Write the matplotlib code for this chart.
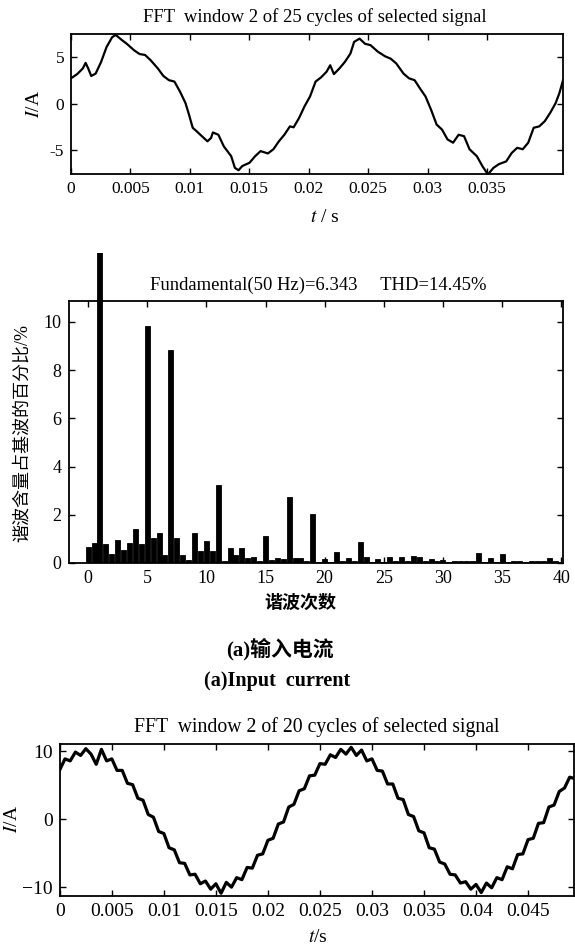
import matplotlib
matplotlib.use("Agg")
import matplotlib.pyplot as plt
from matplotlib.patches import Rectangle

plt.rcParams['font.family'] = ['Liberation Serif', 'Noto Sans CJK SC']
plt.rcParams['mathtext.fontset'] = 'stix'
plt.rcParams['axes.unicode_minus'] = False

# input current, FFT window of 2 cycles
t_in = [0, 0.00052, 0.00099, 0.00123, 0.00145, 0.00170, 0.00207, 0.00253, 0.00299, 0.00346,
        0.00376, 0.00423, 0.00469, 0.00531, 0.00577, 0.00623, 0.00669, 0.00731, 0.00777, 0.00824,
        0.00870, 0.00916, 0.00963, 0.00993, 0.01024, 0.01055, 0.01101, 0.01148, 0.01178, 0.01194,
        0.01240, 0.01286, 0.01348, 0.01379, 0.01410, 0.01441, 0.01502, 0.01549, 0.01595, 0.01657,
        0.01703, 0.01749, 0.01795, 0.01842, 0.01873, 0.01919, 0.01965, 0.02011, 0.02058, 0.02104,
        0.02150, 0.02181, 0.02212, 0.02258, 0.02304, 0.02351, 0.02382, 0.02428, 0.02474, 0.02520,
        0.02582, 0.02644, 0.02690, 0.02736, 0.02798, 0.02844, 0.02891, 0.02937, 0.02983, 0.03029,
        0.03076, 0.03122, 0.03168, 0.03215, 0.03261, 0.03307, 0.03353, 0.03415, 0.03461, 0.03508,
        0.03554, 0.03600, 0.03662, 0.03708, 0.03754, 0.03801, 0.03847, 0.03893, 0.03940, 0.03986,
        0.04032, 0.04078, 0.04109, 0.04140]
i_in = [2.7, 3.15, 3.75, 4.35, 3.75, 2.95, 3.2, 4.45, 6.05, 7.1,
        7.35, 6.85, 6.4, 5.7, 5.3, 5.2, 4.65, 3.75, 2.95, 2.5,
        2.35, 1.3, 0.05, -1.2, -2.6, -2.95, -3.5, -4.05, -3.7, -3.1,
        -3.35, -4.6, -5.65, -6.9, -7.15, -6.7, -6.35, -5.65, -5.1, -5.35,
        -4.9, -4.05, -3.35, -2.45, -2.55, -1.55, -0.3, 0.75, 2.35, 2.8,
        3.4, 4.1, 3.15, 3.75, 4.45, 5.35, 6.6, 6.95, 6.4, 6.25,
        5.55, 5.05, 4.8, 4.3, 3.2, 2.7, 2.5, 1.6, 0.75, -0.65,
        -2.25, -2.8, -3.85, -4.2, -3.35, -3.5, -4.9, -5.65, -6.7, -7.6,
        -6.9, -6.5, -6.2, -5.3, -4.75, -4.9, -4.2, -2.6, -2.45, -1.9,
        -1.0, 0.05, 1.1, 2.5]

# harmonic spectrum, % of fundamental
orders = [0, 0.5, 1, 1.5, 2, 2.5, 3, 3.5, 4, 4.5, 5, 5.5, 6, 6.5, 7, 7.5, 8, 8.5, 9, 9.5,
          10, 10.5, 11, 11.5, 12, 12.5, 13, 13.5, 14, 14.5, 15, 15.5, 16, 16.5, 17, 17.5, 18, 18.5, 19, 19.5,
          20, 20.5, 21, 21.5, 22, 22.5, 23, 23.5, 24, 24.5, 25, 25.5, 26, 26.5, 27, 27.5, 28, 28.5, 29, 29.5,
          30, 30.5, 31, 31.5, 32, 32.5, 33, 33.5, 34, 34.5, 35, 35.5, 36, 36.5, 37, 37.5, 38, 38.5, 39, 39.5, 40]
percent = [0.65, 0.82, 100, 0.78, 0.38, 0.97, 0.52, 0.84, 1.40, 0.77,
           9.85, 1.05, 1.25, 0.35, 8.85, 1.03, 0.35, 0.12, 1.25, 0.48,
           0.90, 0.48, 3.25, 0.10, 0.63, 0.35, 0.62, 0.20, 0.26, 0.10,
           1.10, 0.12, 0.20, 0.15, 2.72, 0.20, 0.20, 0.10, 2.05, 0.05,
           0.18, 0.06, 0.46, 0.10, 0.22, 0.08, 0.87, 0.24, 0.06, 0.18,
           0.06, 0.26, 0.10, 0.24, 0.07, 0.30, 0.23, 0.08, 0.16, 0.08,
           0.14, 0.05, 0.09, 0.08, 0.09, 0.10, 0.42, 0.06, 0.22, 0.04,
           0.36, 0.05, 0.08, 0.08, 0.05, 0.10, 0.10, 0.10, 0.22, 0.08, 0.03]

# second current, FFT window of 2 cycles
t_out = [0.0000, 0.0005, 0.0010, 0.0015, 0.0020, 0.0025, 0.0030, 0.0035, 0.0040, 0.0045,
         0.0050, 0.0055, 0.0060, 0.0065, 0.0070, 0.0075, 0.0080, 0.0085, 0.0090, 0.0095,
         0.0100, 0.0105, 0.0110, 0.0115, 0.0120, 0.0125, 0.0130, 0.0135, 0.0140, 0.0145,
         0.0150, 0.0155, 0.0160, 0.0165, 0.0170, 0.0175, 0.0180, 0.0185, 0.0190, 0.0195,
         0.0200, 0.0205, 0.0210, 0.0215, 0.0220, 0.0225, 0.0230, 0.0235, 0.0240, 0.0245,
         0.0250, 0.0255, 0.0260, 0.0265, 0.0270, 0.0275, 0.0280, 0.0285, 0.0290, 0.0295,
         0.0300, 0.0305, 0.0310, 0.0315, 0.0320, 0.0325, 0.0330, 0.0335, 0.0340, 0.0345,
         0.0350, 0.0355, 0.0360, 0.0365, 0.0370, 0.0375, 0.0380, 0.0385, 0.0390, 0.0395,
         0.0400, 0.0405, 0.0410, 0.0415, 0.0420, 0.0425, 0.0430, 0.0435, 0.0440, 0.0445,
         0.0450, 0.0455, 0.0460, 0.0465, 0.0470, 0.0475, 0.0480, 0.0485, 0.0490, 0.0495]
i_out = [7.3, 8.9, 8.6, 9.9, 9.4, 10.4, 9.6, 8.1, 10.3, 8.6,
         8.9, 7.2, 7.2, 5.3, 5.1, 3.1, 2.8, 0.7, 0.3, -1.8,
         -2.1, -4.2, -4.5, -6.4, -6.5, -8.2, -8.1, -9.5, -9.1, -10.3,
         -9.5, -10.9, -9.3, -10.0, -8.6, -8.9, -7.1, -7.2, -5.3, -5.1,
         -3.1, -2.8, -0.7, -0.4, 1.8, 2.2, 4.2, 4.5, 6.4, 6.5,
         8.2, 8.1, 9.5, 9.1, 10.3, 9.6, 10.6, 9.4, 10.2, 8.6,
         8.9, 7.2, 7.1, 5.2, 5.2, 3.1, 2.9, 0.7, 0.4, -1.7,
         -2.0, -4.2, -4.4, -6.3, -6.6, -8.1, -8.2, -9.4, -9.2, -10.3,
         -9.6, -10.8, -9.4, -10.1, -8.6, -8.9, -7.0, -7.3, -5.2, -5.1,
         -3.0, -2.8, -0.6, -0.5, 1.8, 2.1, 4.1, 4.6, 6.2, 6.0]

fig = plt.figure(figsize=(5.75, 9.46), dpi=100)


def style_axes(ax, size):
    ax.tick_params(direction='in', top=True, right=True, length=4, width=1,
                   labelsize=size, pad=5)
    for s in ax.spines.values():
        s.set_linewidth(1.3)


# top waveform
ax1 = fig.add_axes([0.1235, 0.8161, 0.8557, 0.1475])
ax1.plot(t_in, i_in, color='black', lw=1.6)
ax1.set_xlim(0, 0.0414)
ax1.set_ylim(-7.55, 7.4)
ax1.set_xticks([0, 0.005, 0.01, 0.015, 0.02, 0.025, 0.03, 0.035])
ax1.set_xticklabels(['0', '0.005', '0.01', '0.015', '0.02', '0.025', '0.03', '0.035'])
ax1.set_yticks([-5, 0, 5])
ax1.set_yticklabels(['-5', '0', '5'])
style_axes(ax1, 12.5)
fig.text(0.548, 0.9824, 'FFT  window 2 of 25 cycles of selected signal',
         ha='center', va='center', fontsize=13.4)
fig.text(0.565, 0.7696, '$t$ / s', ha='center', va='center', fontsize=14)
fig.text(0.06, 0.89, '$I$/A', ha='center', va='center', rotation=90, fontsize=14)

# spectrum
ax2 = fig.add_axes([0.1193, 0.4049, 0.8597, 0.277])
bars = ax2.bar(orders, percent, width=0.42, color='black', edgecolor='black', linewidth=0.6)
ax2.set_xlim(-1.65, 40.15)
ax2.set_ylim(0, 10.87)
# fundamental bar runs past the top of the box
clip = Rectangle((-1.65, 0), 41.8, 12.86, transform=ax2.transData)
for b in bars:
    b.set_clip_path(clip)
ax2.set_xticks([0, 5, 10, 15, 20, 25, 30, 35, 40])
ax2.set_yticks([0, 2, 4, 6, 8, 10])
style_axes(ax2, 13)
fig.text(0.553, 0.6987, 'Fundamental(50 Hz)=6.343     THD=14.45%',
         ha='center', va='center', fontsize=13.4)
fig.text(0.522, 0.3626, '谐波次数', ha='center', va='center', fontsize=13,
         fontweight='bold')
fig.text(0.038, 0.542, '谐波含量占基波的百分比/%', ha='center', va='center',
         rotation=90, fontsize=13)

fig.text(0.487, 0.314, '(a)输入电流', ha='center', va='center', fontsize=15,
         fontweight='bold')
fig.text(0.482, 0.2804, '(a)Input  current', ha='center', va='center', fontsize=14.5,
         fontweight='bold')

# bottom waveform
ax3 = fig.add_axes([0.104, 0.0529, 0.894, 0.1607])
ax3.plot(t_out, i_out, color='black', lw=2.3)
ax3.set_xlim(0, 0.0494)
ax3.set_ylim(-11.3, 11.1)
ax3.set_xticks([0, 0.005, 0.01, 0.015, 0.02, 0.025, 0.03, 0.035, 0.04, 0.045])
ax3.set_xticklabels(['0', '0.005', '0.01', '0.015', '0.02', '0.025', '0.03',
                     '0.035', '0.04', '0.045'])
ax3.set_yticks([-10, 0, 10])
ax3.set_yticklabels(['\u221210', '0', '10'])
style_axes(ax3, 14)
fig.text(0.551, 0.2318, 'FFT  window 2 of 20 cycles of selected signal',
         ha='center', va='center', fontsize=14.2)
fig.text(0.553, 0.0095, '$t$/s', ha='center', va='center', fontsize=14)
fig.text(0.022, 0.134, '$I$/A', ha='center', va='center', rotation=90, fontsize=14)

fig.savefig('out.png', dpi=100)
